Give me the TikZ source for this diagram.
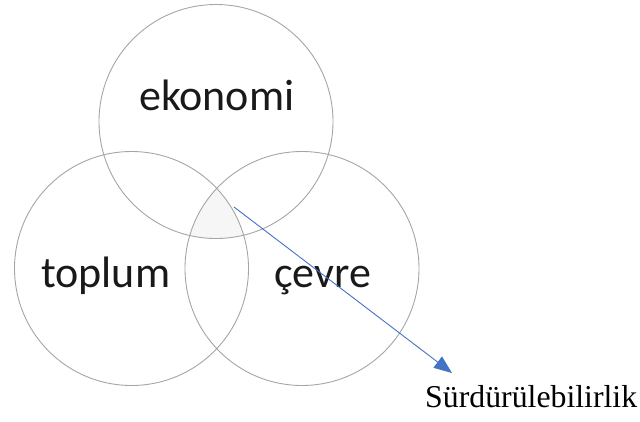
\documentclass[tikz,border=0pt]{standalone}
\usepackage{fontspec}
\setmainfont{Liberation Serif}
\newfontfamily\calfont{Carlito}
\usetikzlibrary{arrows.meta}
\definecolor{ringgray}{RGB}{165,165,165}
\definecolor{arrowblue}{RGB}{68,114,196}
\definecolor{coregray}{RGB}{246,246,246}
\begin{document}
\begin{tikzpicture}[x=1pt,y=1pt,
  ring/.style={circle,draw=ringgray,line width=0.9pt,minimum size=234pt,inner sep=0pt},
  setlabel/.style={anchor=base west,inner sep=0pt,font=\calfont\fontsize{44}{50}\selectfont,text=black!90},
  sumlabel/.style={anchor=base west,inner sep=0pt,font=\fontsize{31.8}{36}\selectfont},
  link/.style={draw=arrowblue,line width=0.9pt,-{Triangle[length=18pt,width=14pt]}}]
\useasboundingbox (0,0) rectangle (640,-421);
\begin{scope}
  \clip (216,-121.5) circle (117pt);
  \clip (131.5,-268.5) circle (117pt);
  \fill[coregray] (302,-268.5) circle (117pt);
\end{scope}
\node[ring] (eko) at (216,-121.5) {};
\node[ring] (top) at (131.5,-268.5) {};
\node[ring] (cev) at (302,-268.5) {};
\node[setlabel] (ekot) at (139,-110) {ekonomi};
\node[setlabel] (topt) at (41,-287) {toplum};
\node[setlabel] (cevt) at (274,-287) {çevre};
\node[sumlabel] (sur) at (425,-407) {Sürdürülebilirlik};
\coordinate (astart) at (234,-207);
\coordinate (aend) at (452,-373);
\draw[link] (astart) -- (aend);
\end{tikzpicture}
\end{document}
